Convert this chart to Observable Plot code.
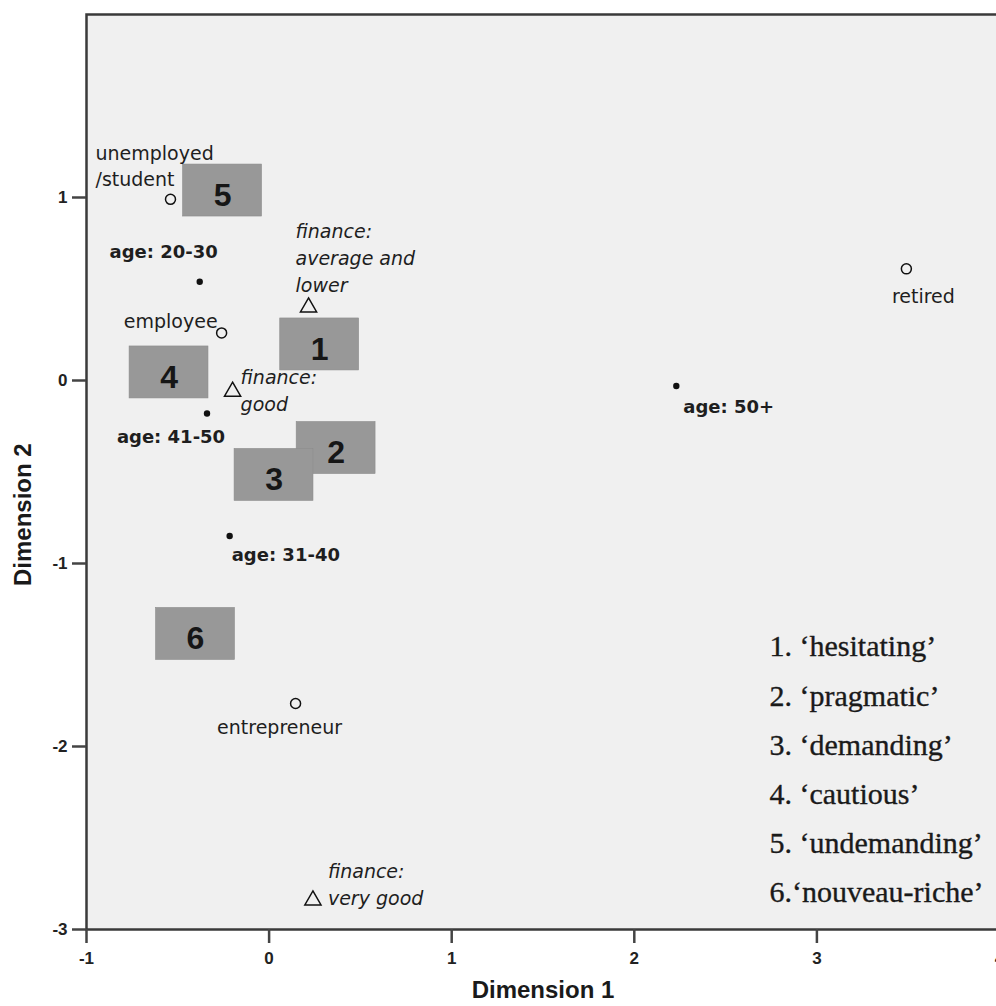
<!DOCTYPE html>
<html>
<head>
<meta charset="utf-8">
<script src="https://cdn.jsdelivr.net/npm/d3@7"></script>
<script src="https://cdn.jsdelivr.net/npm/@observablehq/plot@0.6"></script>
<style>
  html, body { margin: 0; padding: 0; background: #ffffff; overflow: hidden; }
  #chart { width: 996px; height: 1006px; overflow: hidden; }
  #chart svg { max-width: none !important; width: 1010px !important; height: 1006px !important; }
</style>
</head>
<body>
<div id="chart"></div>
<script>
// ---- data ----
const occupations = ["unemployed\n/student", "employee", "retired", "entrepreneur"];
const occX = [-0.54, -0.26, 3.49, 0.145];
const occY = [0.99, 0.26, 0.61, -1.765];

const ageGroups = ["age: 20-30", "age: 41-50", "age: 31-40", "age: 50+"];
const ageX = [-0.38, -0.34, -0.216, 2.23];
const ageY = [0.54, -0.18, -0.85, -0.03];

const financeLevels = ["finance:\naverage and\nlower", "finance:\ngood", "finance:\nvery good"];
const finX = [0.216, -0.2, 0.24];
const finY = [0.40, -0.06, -2.84];

const segmentIds = [1, 2, 3, 4, 5, 6];
const segmentNames = ["‘hesitating’", "‘pragmatic’", "‘demanding’", "‘cautious’", "‘undemanding’", "‘nouveau-riche’"];
const segX = [0.277, 0.367, 0.027, -0.548, -0.255, -0.403];
const segY = [0.197, -0.369, -0.516, 0.044, 1.038, -1.385];

const xTicks = [-1, 0, 1, 2, 3, 4];
const yTicks = [-3, -2, -1, 0, 1];
const xTitle = "Dimension 1";
const yTitle = "Dimension 2";

// ---- layout (styling, not data) ----
const BOX_HALF_W = 0.216;
const BOX_HALF_H = 0.142;
const occLayout = [
  {anchor: "start", dx: -75, dy: -35},
  {anchor: "end", dx: -4, dy: -13},
  {anchor: "middle", dx: 17, dy: 26},
  {anchor: "middle", dx: -16, dy: 22}
];
const ageLayout = [
  {anchor: "middle", dx: -36, dy: -29},
  {anchor: "middle", dx: -36, dy: 24},
  {anchor: "start", dx: 2, dy: 19},
  {anchor: "start", dx: 7, dy: 21}
];
const finLayout = [
  {anchor: "start", dx: -13, dy: -51},
  {anchor: "start", dx: 8, dy: -3},
  {anchor: "start", dx: 15, dy: -17.5}
];

const occ = occupations.map((name, i) => ({name, x: occX[i], y: occY[i]}));
const age = ageGroups.map((name, i) => ({name, x: ageX[i], y: ageY[i]}));
const fin = financeLevels.map((name, i) => ({name, x: finX[i], y: finY[i]}));
const seg = segmentIds.map((id, i) => ({id, name: segmentNames[i], x: segX[i], y: segY[i]}));
const legendText = seg.map(d => d.id === 6 ? `${d.id}.${d.name}` : `${d.id}. ${d.name}`).join("\n");

const SANS = "'DejaVu Sans', Verdana, sans-serif";
const NARROW = "'Liberation Sans Narrow', 'Liberation Sans', Arial, sans-serif";
const TEXT = "#1e1e1e";

const marks = [
  Plot.frame({fill: "#f0f0f0"}),
  Plot.rect(seg, {
    x1: d => d.x - BOX_HALF_W, x2: d => d.x + BOX_HALF_W,
    y1: d => d.y - BOX_HALF_H, y2: d => d.y + BOX_HALF_H,
    fill: "#989898", stroke: "#8c8c8c", strokeWidth: 0.6
  }),
  Plot.text(seg, {
    x: "x", y: "y", text: d => String(d.id), dy: 5,
    fontFamily: "'Liberation Sans', Arial, sans-serif", fontSize: 32, fontWeight: "bold", fill: "#161616"
  }),
  Plot.dot(occ, {x: "x", y: "y", r: 5, stroke: "#111", strokeWidth: 1.5, fill: "none"}),
  Plot.dot(age, {x: "x", y: "y", r: 3.2, fill: "#111", stroke: "none"}),
  Plot.dot(fin, {x: "x", y: "y", symbol: "triangle", r: 6, stroke: "#111", strokeWidth: 1.5, fill: "none"}),
  ...occ.map((d, i) => Plot.text([d], {
    x: "x", y: "y", text: "name", textAnchor: occLayout[i].anchor,
    dx: occLayout[i].dx, dy: occLayout[i].dy, lineAnchor: "middle", lineHeight: 1.37,
    fontFamily: SANS, fontSize: 19, fill: TEXT
  })),
  ...age.map((d, i) => Plot.text([d], {
    x: "x", y: "y", text: "name", textAnchor: ageLayout[i].anchor,
    dx: ageLayout[i].dx, dy: ageLayout[i].dy, lineAnchor: "middle",
    fontFamily: SANS, fontSize: 18, fontWeight: "bold", fill: TEXT
  })),
  ...fin.map((d, i) => Plot.text([d], {
    x: "x", y: "y", text: "name", textAnchor: finLayout[i].anchor,
    dx: finLayout[i].dx, dy: finLayout[i].dy, lineAnchor: "middle", lineHeight: 1.42,
    fontFamily: SANS, fontSize: 19, fontStyle: "italic", fill: TEXT
  })),
  Plot.text([legendText], {
    frameAnchor: "top-left", text: d => d, dx: 683, dy: 607, lineAnchor: "top",
    lineHeight: 1.64, textAnchor: "start",
    fontFamily: "'Liberation Serif', 'Times New Roman', serif", fontSize: 30,
    fill: "#1a1a1a", stroke: "#1a1a1a", strokeWidth: 0.35
  }),
  Plot.frame({stroke: "#3a3a3a", strokeWidth: 2.5}),
  Plot.axisX({
    ticks: xTicks, tickFormat: d => String(d), tickSize: 14, tickPadding: 8, label: null,
    stroke: "#444", strokeWidth: 2.5, fill: "#222",
    fontFamily: NARROW, fontSize: 17, fontWeight: "bold"
  }),
  Plot.axisY({
    ticks: yTicks, tickFormat: d => String(d), tickSize: 14, tickPadding: 5, label: null,
    stroke: "#444", strokeWidth: 2.5, fill: "#222",
    fontFamily: NARROW, fontSize: 17, fontWeight: "bold"
  }),
  Plot.text([xTitle], {
    frameAnchor: "bottom", text: d => d, dy: 61, lineAnchor: "middle",
    fontFamily: "'Liberation Sans', Arial, sans-serif", fontSize: 24, fontWeight: "bold", fill: "#1a1a1a"
  }),
  Plot.text([yTitle], {
    frameAnchor: "left", text: d => d, dx: -63, dy: 114, rotate: -90, lineAnchor: "middle",
    fontFamily: "'Liberation Sans', Arial, sans-serif", fontSize: 24, fontWeight: "bold", fill: "#1a1a1a"
  })
];

const chart = Plot.plot({
  width: 1010,
  height: 1006,
  marginLeft: 86,
  marginRight: 11,
  marginTop: 14,
  marginBottom: 77,
  x: {domain: [-1, 4], axis: null},
  y: {domain: [-3, 2], axis: null},
  style: {background: "#ffffff", overflow: "visible"},
  marks
});
document.getElementById("chart").appendChild(chart);
</script>
</body>
</html>
